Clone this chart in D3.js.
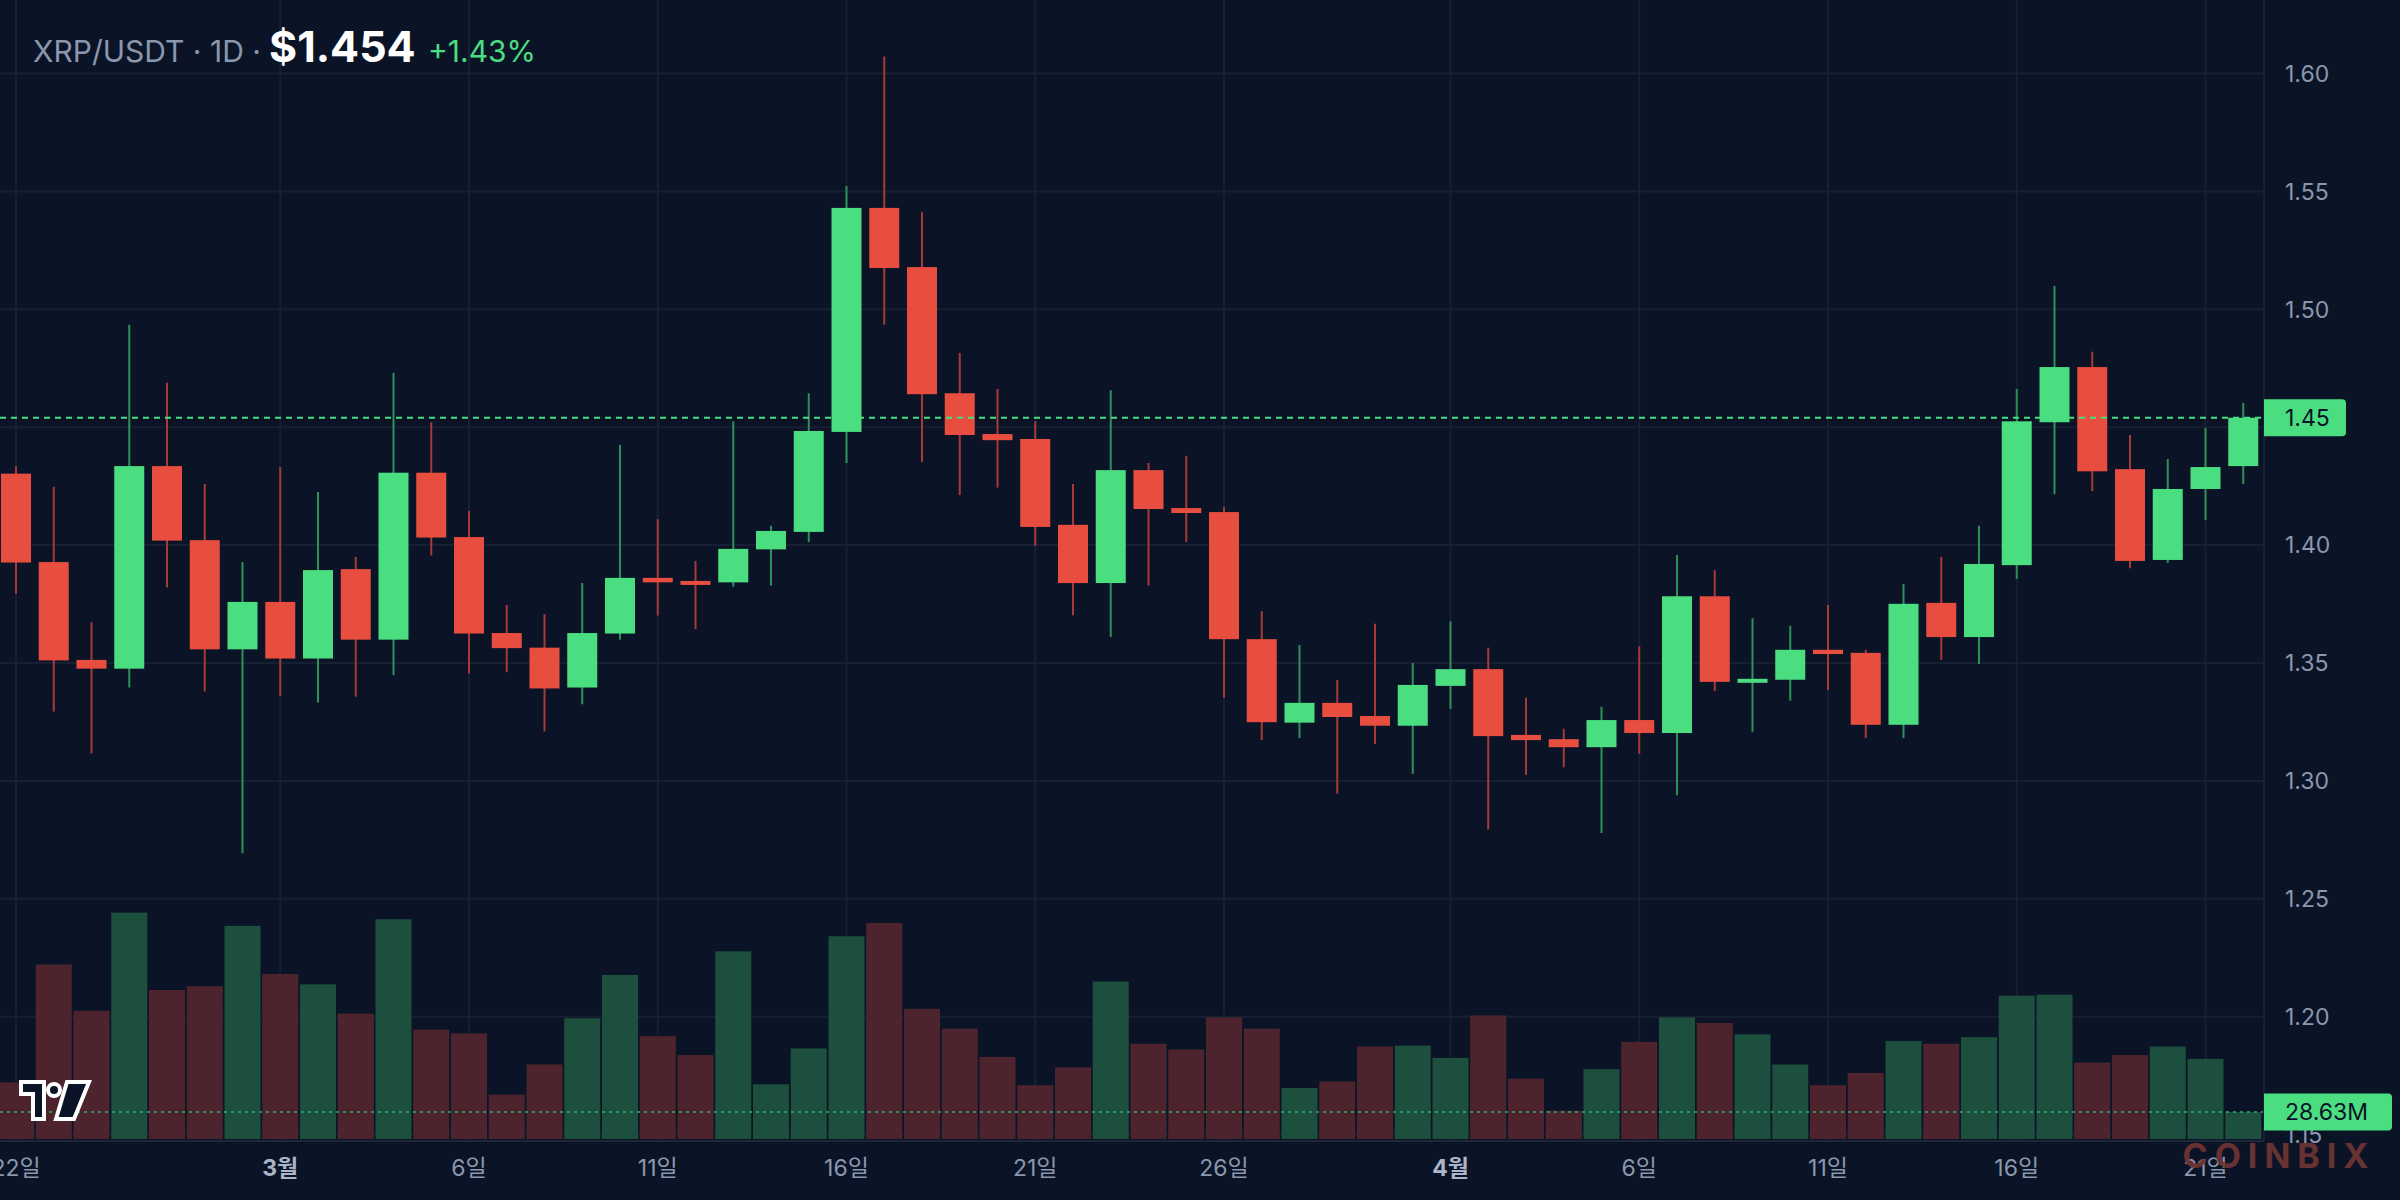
<!DOCTYPE html>
<html>
<head>
<meta charset="utf-8">
<script src="https://cdn.jsdelivr.net/npm/d3@7"></script>
<style>
  html, body { margin: 0; padding: 0; background: #0b1427; }
  svg { display: block; }
</style>
</head>
<body>
<div id="chart"></div>
<script>
// daily candles, 22 Feb -> 22 Apr
const opens = [1.4303,1.3928,1.3513,1.3476,1.4335,1.4021,1.3558,1.3759,1.3519,1.3898,
  1.3599,1.4307,1.4034,1.3627,1.3565,1.3396,1.3625,1.3861,1.3848,1.3842,
  1.3982,1.4056,1.4480,1.5430,1.5179,1.4644,1.4471,1.4450,1.4086,1.3839,
  1.4318,1.4157,1.4140,1.3601,1.3247,1.3331,1.3275,1.3234,1.3403,1.3474,
  1.3195,1.3177,1.3143,1.3258,1.3203,1.3783,1.3420,1.3429,1.3556,1.3543,
  1.3238,1.3755,1.3610,1.3915,1.4521,1.4755,1.4322,1.3937,1.4238,1.4335];
const highs = [1.4335,1.4247,1.3673,1.4934,1.4688,1.4259,1.3928,1.4331,1.4225,1.3950,
  1.4731,1.4521,1.4145,1.3746,1.3707,1.3839,1.4424,1.4110,1.3933,1.4525,
  1.4082,1.4644,1.5523,1.6072,1.5412,1.4815,1.4662,1.4525,1.4259,1.4657,
  1.4348,1.4378,1.4162,1.3720,1.3576,1.3428,1.3666,1.3500,1.3677,1.3565,
  1.3353,1.3221,1.3314,1.3571,1.3958,1.3894,1.3690,1.3658,1.3746,1.3556,
  1.3835,1.3950,1.4082,1.4662,1.5099,1.4820,1.4467,1.4365,1.4497,1.4603];
const lows = [1.3794,1.3294,1.3117,1.3396,1.3820,1.3379,1.2693,1.3361,1.3333,1.3357,
  1.3448,1.3956,1.3456,1.3461,1.3210,1.3325,1.3599,1.3701,1.3643,1.3824,
  1.3829,1.4013,1.4348,1.4934,1.4352,1.4212,1.4244,1.3997,1.3703,1.3610,
  1.3829,1.4013,1.3353,1.3173,1.3182,1.2946,1.3156,1.3030,1.3305,1.2794,
  1.3026,1.3058,1.2779,1.3115,1.2939,1.3381,1.3208,1.3340,1.3385,1.3182,
  1.3182,1.3513,1.3496,1.3857,1.4216,1.4229,1.3902,1.3924,1.4106,1.4259];
const closes = [1.3926,1.3511,1.3476,1.4335,1.4019,1.3558,1.3759,1.3519,1.3894,1.3599,
  1.4307,1.4032,1.3625,1.3563,1.3392,1.3627,1.3861,1.3842,1.3835,1.3984,
  1.4060,1.4484,1.5430,1.5175,1.4640,1.4467,1.4445,1.4077,1.3839,1.4318,
  1.4153,1.4136,1.3601,1.3249,1.3331,1.3271,1.3234,1.3407,1.3474,1.3190,
  1.3173,1.3143,1.3258,1.3203,1.3783,1.3420,1.3433,1.3556,1.3538,1.3238,
  1.3751,1.3610,1.3920,1.4525,1.4755,1.4313,1.3933,1.4238,1.4331,1.4540];
// volume, millions
const volumes = [60,185,136,240,158,162,226,175,164,133,
  233,116,112,47,79,128,174,109,89,199,
  58,96,215,229,138,117,87,57,76,167,
  101,95,129,117,54,61,98,99,86,131,
  64,30,74,103,129,123,111,79,57,70,
  104,101,108,152,153,81,89,98,85,28.63];

const priceTicks = [1.15,1.20,1.25,1.30,1.35,1.40,1.45,1.50,1.55,1.60];
const dateTickIdx = [0,7,12,17,22,27,32,38,43,48,53,58];
const dateTickLabels = ["22일","3월","6일","11일","16일","21일","26일","4월","6일","11일","16일","21일"];

const lastPrice = 1.454;
const lastVolume = 28.63;

const W = 2400, H = 1200;
const plotRight = 2264;
const volBottom = 1139;
const FONT = "Inter, 'Noto Sans CJK KR', sans-serif";

const bg = "#0b1427";
const gridColor = "#172032";
const axisText = "#8a97ad";
const up = "#4ade80", down = "#e84e40";
const upWick = "#2f8f58", downWick = "#a8393a";
const upVol = "#1c4f3d", downVol = "#4d242d";

let svg = d3.select("#chart").append("svg")
  .attr("width", W).attr("height", H)
  .style("background", bg);

let x = d3.scaleLinear().domain([0, 59]).range([16, 16 + 59 * 37.75]);
let y = d3.scaleLinear().domain([1.15, 1.60]).range([1134.6, 73.5]);
let yv = d3.scaleLinear().domain([0, 250]).range([volBottom, volBottom - 250 * 27 / 28.63]);

// grid
let grid = svg.append("g");
grid.selectAll(".hg").data(priceTicks).enter().append("line")
  .attr("x1", 0).attr("x2", plotRight)
  .attr("y1", d => y(d)).attr("y2", d => y(d))
  .attr("stroke", gridColor).attr("stroke-width", 2);
grid.selectAll(".vg").data(dateTickIdx).enter().append("line")
  .attr("x1", d => x(d)).attr("x2", d => x(d))
  .attr("y1", 0).attr("y2", 1141)
  .attr("stroke", gridColor).attr("stroke-width", 2);

// volume bars
let idx = d3.range(opens.length);
svg.append("g").selectAll("rect").data(idx).enter().append("rect")
  .attr("x", i => x(i) - 18)
  .attr("width", 36)
  .attr("y", i => yv(volumes[i]))
  .attr("height", i => volBottom - yv(volumes[i]))
  .attr("fill", i => closes[i] >= opens[i] ? upVol : downVol);

// volume level line
svg.append("line")
  .attr("x1", 0).attr("x2", plotRight)
  .attr("y1", yv(lastVolume)).attr("y2", yv(lastVolume))
  .attr("stroke", "#2fa866").attr("stroke-width", 2)
  .attr("stroke-dasharray", "3,4").attr("opacity", 0.8);

// axis frame
svg.append("line").attr("x1", plotRight).attr("x2", plotRight).attr("y1", 0).attr("y2", 1141)
  .attr("stroke", gridColor).attr("stroke-width", 2);
svg.append("line").attr("x1", 0).attr("x2", plotRight).attr("y1", 1141).attr("y2", 1141)
  .attr("stroke", "#1e2738").attr("stroke-width", 2);

// candles
let candles = svg.append("g").selectAll("g").data(idx).enter().append("g");
candles.append("line")
  .attr("x1", i => x(i)).attr("x2", i => x(i))
  .attr("y1", i => y(highs[i])).attr("y2", i => y(lows[i]))
  .attr("stroke", i => closes[i] >= opens[i] ? upWick : downWick)
  .attr("stroke-width", 2);
candles.append("rect")
  .attr("x", i => x(i) - 15)
  .attr("width", 30)
  .attr("y", i => y(Math.max(opens[i], closes[i])))
  .attr("height", i => Math.max(4, Math.abs(y(opens[i]) - y(closes[i]))))
  .attr("fill", i => closes[i] >= opens[i] ? up : down);

// last price line
svg.append("line")
  .attr("x1", 0).attr("x2", plotRight)
  .attr("y1", y(lastPrice)).attr("y2", y(lastPrice))
  .attr("stroke", up).attr("stroke-width", 2)
  .attr("stroke-dasharray", "6,5");

// price axis labels (the 1.45 one sits under the price tag)
svg.append("g").selectAll("text")
  .data(priceTicks.filter(d => Math.abs(y(d) - y(lastPrice)) > 20))
  .enter().append("text")
  .attr("x", 2285).attr("y", d => y(d))
  .attr("dy", "0.36em")
  .attr("fill", axisText)
  .attr("font-family", FONT).attr("font-size", 23)
  .text(d => d.toFixed(2));

// price tag
function tag(yy, w, label) {
  let g = svg.append("g");
  g.append("path")
    .attr("d", `M${plotRight},${yy - 18.5}H${plotRight + w - 4}q4,0 4,4V${yy + 14.5}q0,4 -4,4H${plotRight}Z`)
    .attr("fill", up);
  g.append("text")
    .attr("x", 2285).attr("y", yy).attr("dy", "0.36em")
    .attr("fill", "#0b1427")
    .attr("font-family", FONT).attr("font-size", 23)
    .text(label);
}
tag(y(lastPrice), 82, d3.format(".2f")(lastPrice));
tag(yv(lastVolume), 128, d3.format(".2f")(lastVolume) + "M");

// date labels
svg.append("g").selectAll("text").data(dateTickIdx).enter().append("text")
  .attr("x", d => x(d)).attr("y", 1168)
  .attr("dy", "0.36em")
  .attr("text-anchor", "middle")
  .attr("fill", (d, i) => dateTickLabels[i].includes("월") ? "#aab6c8" : axisText)
  .attr("font-weight", (d, i) => dateTickLabels[i].includes("월") ? 700 : 400)
  .attr("font-family", FONT).attr("font-size", 23)
  .text((d, i) => dateTickLabels[i]);

// watermark
svg.append("text")
  .attr("x", 2279).attr("y", 1156).attr("dy", "0.36em")
  .attr("text-anchor", "middle")
  .attr("fill", "#6e3434").attr("opacity", 0.95)
  .attr("font-family", FONT).attr("font-weight", 700)
  .attr("font-size", 34).attr("letter-spacing", 7)
  .text("COINBIX");

// tv logo
let logo = svg.append("g").attr("transform", "translate(21,1082)");
logo.append("path").attr("d", "M0,0H23V37H12V12H0Z");
logo.append("circle").attr("cx", 33).attr("cy", 8).attr("r", 6);
logo.append("path").attr("d", "M46,0H68L53,37H35Z");
logo.selectAll("path,circle")
  .attr("fill", bg).attr("stroke", "#ffffff").attr("stroke-width", 4)
  .attr("stroke-linejoin", "miter");

// header
let head = svg.append("g").attr("font-family", FONT);
head.append("text").attr("x", 33).attr("y", 62)
  .attr("fill", axisText).attr("font-size", 30)
  .text("XRP/USDT · 1D ·");
head.append("text").attr("x", 269).attr("y", 62)
  .attr("fill", "#ffffff").attr("font-size", 43).attr("font-weight", 700)
  .text("$" + lastPrice.toFixed(3));
head.append("text").attr("x", 428).attr("y", 62)
  .attr("fill", up).attr("font-size", 30)
  .text("+1.43%");
</script>
</body>
</html>
